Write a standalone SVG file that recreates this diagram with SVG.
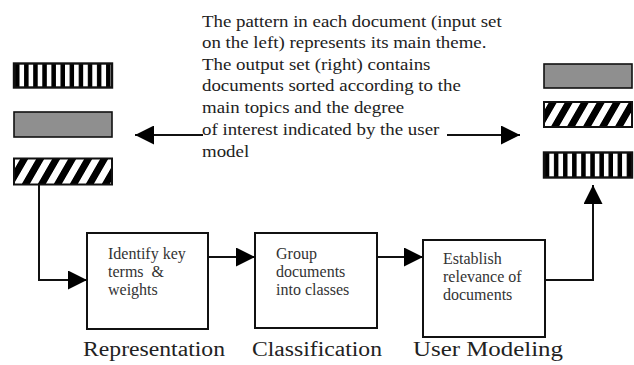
<svg xmlns="http://www.w3.org/2000/svg" width="634" height="365" viewBox="0 0 634 365">
<style>
.box{fill:#fff;stroke:#111;stroke-width:2}
.bt{font-family:"Liberation Serif","Times New Roman",serif;font-size:16px;fill:#333}
.tt{font-family:"Liberation Serif","Times New Roman",serif;font-size:16px;fill:#222}
.lbl{font-family:"Liberation Serif","Times New Roman",serif;font-size:20px;fill:#222}
.gray{fill:#8f8f8f;stroke:#111;stroke-width:1.6}
.stripe{stroke:#111;stroke-width:2.4}
.hatchbar{fill:url(#hatch);stroke:#111;stroke-width:2}
.con{fill:none;stroke:#111;stroke-width:2;marker-end:url(#ah)}
</style>
<defs>
<marker id="ah" viewBox="0 0 20 20" refX="20" refY="10" markerWidth="21" markerHeight="19" orient="auto" markerUnits="userSpaceOnUse"><path d="M0,0 L20,10 L0,20 z" fill="#000"/></marker>
<pattern id="vsL" x="19.5" y="0" width="9.1" height="10" patternUnits="userSpaceOnUse"><rect x="0" y="0" width="9.1" height="10" fill="#000"/><rect x="0" y="0" width="4.6" height="10" fill="#fff"/></pattern>
<pattern id="vsR" x="549.3" y="0" width="9.1" height="10" patternUnits="userSpaceOnUse"><rect x="0" y="0" width="9.1" height="10" fill="#000"/><rect x="0" y="0" width="4.6" height="10" fill="#fff"/></pattern>
<pattern id="hatch" x="0" y="0" width="16" height="16" patternUnits="userSpaceOnUse" patternTransform="skewX(-30)"><rect x="0" y="0" width="16" height="16" fill="#fff"/><rect x="0" y="0" width="8" height="16" fill="#000"/></pattern>
</defs>

<g id="input-docs">
<rect class="stripe" x="14" y="63.5" width="98" height="24" fill="url(#vsL)"/>
<rect class="gray" x="14" y="112" width="98" height="25"/>
<rect class="hatchbar" x="14" y="158.5" width="98" height="26"/>
</g>

<g id="output-docs">
<rect class="gray" x="544" y="64" width="88" height="24"/>
<rect class="hatchbar" x="544" y="102" width="88" height="25"/>
<rect class="stripe" x="544" y="152.5" width="88" height="25" fill="url(#vsR)"/>
</g>

<g id="description">
<g transform="translate(202 0) scale(1.18 1)">
<text class="tt" x="0" y="27">The pattern in each document (input set</text>
<text class="tt" x="0" y="48.5">on the left) represents its main theme.</text>
<text class="tt" x="0" y="70">The output set (right) contains</text>
<text class="tt" x="0" y="91.5">documents sorted according to the</text>
<text class="tt" x="0" y="113">main topics and the degree</text>
<text class="tt" x="0" y="135">of interest indicated by the user</text>
<text class="tt" x="0" y="157">model</text>
</g>
</g>

<g id="representation">
<rect class="box" x="87" y="233" width="121" height="96"/>
<text class="bt" x="108" y="259">Identify key</text>
<text class="bt" x="108" y="277" style="white-space:pre" xml:space="preserve">terms  &amp;</text>
<text class="bt" x="108" y="294.5">weights</text>
<text class="lbl" x="83" y="356" textLength="142" lengthAdjust="spacingAndGlyphs">Representation</text>
</g>

<g id="classification">
<rect class="box" x="255" y="233" width="122" height="95"/>
<text class="bt" x="276" y="258.5">Group</text>
<text class="bt" x="276" y="277">documents</text>
<text class="bt" x="276" y="294.5">into classes</text>
<text class="lbl" x="252" y="356" textLength="130" lengthAdjust="spacingAndGlyphs">Classification</text>
</g>

<g id="user-modeling">
<rect class="box" x="423" y="240" width="122" height="97"/>
<text class="bt" x="443" y="263.5">Establish</text>
<text class="bt" x="443" y="282">relevance of</text>
<text class="bt" x="443" y="300">documents</text>
<text class="lbl" x="413" y="356" textLength="150" lengthAdjust="spacingAndGlyphs">User Modeling</text>
</g>

<g id="connectors">
<path class="con" d="M39,185 V280 H87"/>
<path class="con" d="M208,257 H255"/>
<path class="con" d="M377,257 H423"/>
<path class="con" d="M545,280 H593 V185"/>
<path class="con" d="M203,135 H135"/>
<path class="con" d="M447,135 H520"/>
</g>
</svg>
